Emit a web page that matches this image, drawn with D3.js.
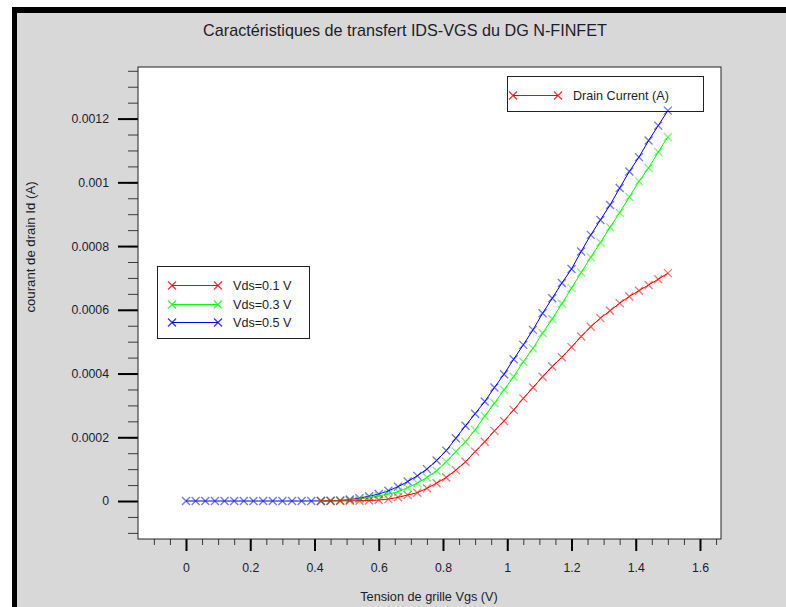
<!DOCTYPE html>
<html>
<head>
<meta charset="utf-8">
<script src="https://cdn.jsdelivr.net/npm/d3@7"></script>
<style>
  body { margin: 0; background: #fff; }
  text { font-family: "Liberation Sans", Arial, sans-serif; fill: #1c1c2a; }
</style>
</head>
<body>
<div id="chart"></div>
<script>
// Vgs sweep (V)
var vgs = [0, 0.03, 0.06, 0.09, 0.12, 0.15, 0.18, 0.21, 0.24, 0.27, 0.3, 0.33, 0.36,
           0.39, 0.42, 0.45, 0.48, 0.51, 0.54, 0.57, 0.6, 0.63, 0.66, 0.69, 0.72, 0.75,
           0.78, 0.81, 0.84, 0.87, 0.9, 0.93, 0.96, 0.99, 1.02, 1.05, 1.08, 1.11, 1.14,
           1.17, 1.2, 1.23, 1.26, 1.29, 1.32, 1.35, 1.38, 1.41, 1.44, 1.47, 1.5];

// drain current in microamps, null = not simulated
var idVds01 = [null, null, null, null, null, null, null, null, null, null, null, null, null,
               null, 0, 0.1, 0.3, 0.6, 0.9, 1.5, 3, 6, 11.6, 19, 26, 40,
               56, 74, 97, 123, 155, 186, 220, 251, 286, 322, 356, 390, 422,
               451, 483, 516, 547, 574, 597, 621, 642, 660, 678, 696, 715];
var idVds03 = [null, null, null, null, null, null, null, null, null, null, null, null, null,
               null, 0.2, 0.5, 1.2, 2.8, 6, 11, 16, 22, 29, 42, 56, 74,
               95, 123, 155, 186, 223, 267, 307, 349, 390, 437, 479, 527, 571,
               619, 668, 717, 765, 811, 859, 905, 954, 1003, 1045, 1095, 1142];
var idVds05 = [0, 0, 0, 0, 0, 0, 0, 0, 0, 0, 0, 0, 0,
               0.1, 0.3, 0.8, 2, 4.5, 9, 15, 22, 32, 45, 61, 79, 100,
               127, 158, 197, 236, 274, 312, 356, 398, 445, 490, 537, 589, 636,
               684, 728, 783, 835, 882, 929, 982, 1034, 1079, 1131, 1178, 1225];

var seriesNames = ["Vds=0.1 V", "Vds=0.3 V", "Vds=0.5 V"];
var seriesColors = ["#ff0000", "#00ff00", "#0000ff"];

var xTickValues = [0, 0.2, 0.4, 0.6, 0.8, 1, 1.2, 1.4, 1.6];
var yTickValues = [0, 0.0002, 0.0004, 0.0006, 0.0008, 0.001, 0.0012];

var width = 786, height = 607;
var plot = {left: 138, right: 721, top: 67, bottom: 539};

var svg = d3.select("#chart")
  .append("svg")
    .attr("width", width)
    .attr("height", height);

// window frame
svg.append("rect").attr("x", 12).attr("y", 7).attr("width", 800).attr("height", 620).attr("fill", "#000");
svg.append("rect").attr("x", 17).attr("y", 13).attr("width", 800).attr("height", 620).attr("fill", "#d8d8d8");

var x = d3.scaleLinear().domain([-0.1494, 1.6654]).range([plot.left, plot.right]);
var y = d3.scaleLinear().domain([-0.0001192, 0.0013619]).range([plot.bottom, plot.top]);

// plot area
svg.append("rect")
  .attr("x", plot.left).attr("y", plot.top)
  .attr("width", plot.right - plot.left).attr("height", plot.bottom - plot.top)
  .attr("fill", "#fff");

// Y axis, minor then major ticks
var yMinor = d3.range(-0.0001, 0.00136, 0.00005);
svg.append("g")
  .attr("transform", "translate(" + plot.left + ",0)")
  .call(d3.axisLeft(y).tickValues(yMinor).tickSize(10).tickFormat(""))
  .call(g => g.select(".domain").remove())
  .call(g => g.selectAll("line").attr("stroke", "#3a3a3a"));
svg.append("g")
  .attr("transform", "translate(" + plot.left + ",0)")
  .call(d3.axisLeft(y).tickValues(yTickValues).tickSize(20).tickPadding(9).tickFormat(d => d3.format("~g")(d)))
  .call(g => g.select(".domain").remove())
  .call(g => g.selectAll("line").attr("stroke", "#000").attr("stroke-width", 2))
  .call(g => g.selectAll("text").attr("font-size", 12.3).attr("font-family", "Liberation Sans, Arial, sans-serif").attr("fill", "#1c1c2a"));

// X axis
var xMinor = d3.range(-0.1, 1.66, 0.05);
svg.append("g")
  .attr("transform", "translate(0," + plot.bottom + ")")
  .call(d3.axisBottom(x).tickValues(xMinor).tickSize(6).tickFormat(""))
  .call(g => g.select(".domain").remove())
  .call(g => g.selectAll("line").attr("stroke", "#3a3a3a"));
svg.append("g")
  .attr("transform", "translate(0," + plot.bottom + ")")
  .call(d3.axisBottom(x).tickValues(xTickValues).tickSize(12).tickPadding(12).tickFormat(d => d3.format("~g")(d)))
  .call(g => g.select(".domain").remove())
  .call(g => g.selectAll("line").attr("stroke", "#000").attr("stroke-width", 2))
  .call(g => g.selectAll("text").attr("font-size", 12.3).attr("font-family", "Liberation Sans, Arial, sans-serif").attr("fill", "#1c1c2a"));

// plot border
svg.append("rect")
  .attr("x", plot.left).attr("y", plot.top)
  .attr("width", plot.right - plot.left).attr("height", plot.bottom - plot.top)
  .attr("fill", "none").attr("stroke", "#222").attr("stroke-width", 1);

// titles
svg.append("text")
  .attr("x", 405).attr("y", 36)
  .attr("text-anchor", "middle").attr("font-size", 16.2)
  .text("Caractéristiques de transfert IDS-VGS du DG N-FINFET");
svg.append("text")
  .attr("x", 429).attr("y", 601)
  .attr("text-anchor", "middle").attr("font-size", 12.7)
  .text("Tension de grille Vgs (V)");
svg.append("text")
  .attr("transform", "translate(35,247) rotate(-90)")
  .attr("text-anchor", "middle").attr("font-size", 13.2)
  .text("courant de drain Id (A)");

function cross(g, cx, cy, color, op) {
  var s = 4;
  g.append("path")
    .attr("d", "M" + (cx - s) + "," + (cy - s) + "L" + (cx + s) + "," + (cy + s) +
               "M" + (cx - s) + "," + (cy + s) + "L" + (cx + s) + "," + (cy - s))
    .attr("stroke", color).attr("stroke-opacity", op).attr("stroke-width", 1.3).attr("fill", "none");
}

// curves, blue first so red sits on top
var allSeries = [idVds01, idVds03, idVds05];
var line = d3.line().x(d => x(d.v)).y(d => y(d.i));
var plotG = svg.append("g");
[2, 1, 0].forEach(function(k) {
  var pts = vgs.map((v, j) => ({v: v, i: allSeries[k][j] == null ? null : allSeries[k][j] * 1e-6}))
               .filter(d => d.i != null);
  plotG.append("path")
    .datum(pts)
    .attr("d", line)
    .attr("fill", "none")
    .attr("stroke", seriesColors[k])
    .attr("stroke-width", 1);
  pts.forEach(d => cross(plotG, x(d.v), y(d.i), seriesColors[k], 0.55));
});

// legend: series
var leg = svg.append("g");
leg.append("rect").attr("x", 157.5).attr("y", 266.5).attr("width", 152).attr("height", 72)
  .attr("fill", "#fff").attr("stroke", "#222");
seriesNames.forEach(function(name, k) {
  var ly = Math.round(285 + k * 18.5) + 0.5;
  leg.append("line").attr("x1", 172).attr("x2", 218).attr("y1", ly).attr("y2", ly)
    .attr("stroke", seriesColors[k]);
  cross(leg, 172, ly, seriesColors[k], 0.8);
  cross(leg, 218, ly, seriesColors[k], 0.8);
  leg.append("text").attr("x", 233).attr("y", ly + 4.5).attr("font-size", 12.6).text(name);
});

// legend: quantity
var leg2 = svg.append("g");
leg2.append("rect").attr("x", 507.5).attr("y", 76.5).attr("width", 196).attr("height", 35)
  .attr("fill", "#fff").attr("stroke", "#222");
leg2.append("line").attr("x1", 513).attr("x2", 558).attr("y1", 95.5).attr("y2", 95.5).attr("stroke", "#ff0000");
cross(leg2, 513, 95.5, "#ff0000", 0.8);
cross(leg2, 558, 95.5, "#ff0000", 0.8);
leg2.append("text").attr("x", 573).attr("y", 100).attr("font-size", 12.6).text("Drain Current (A)");

// last blue marker overlaps the legend box in the original
plotG.raise();
</script>
</body>
</html>
